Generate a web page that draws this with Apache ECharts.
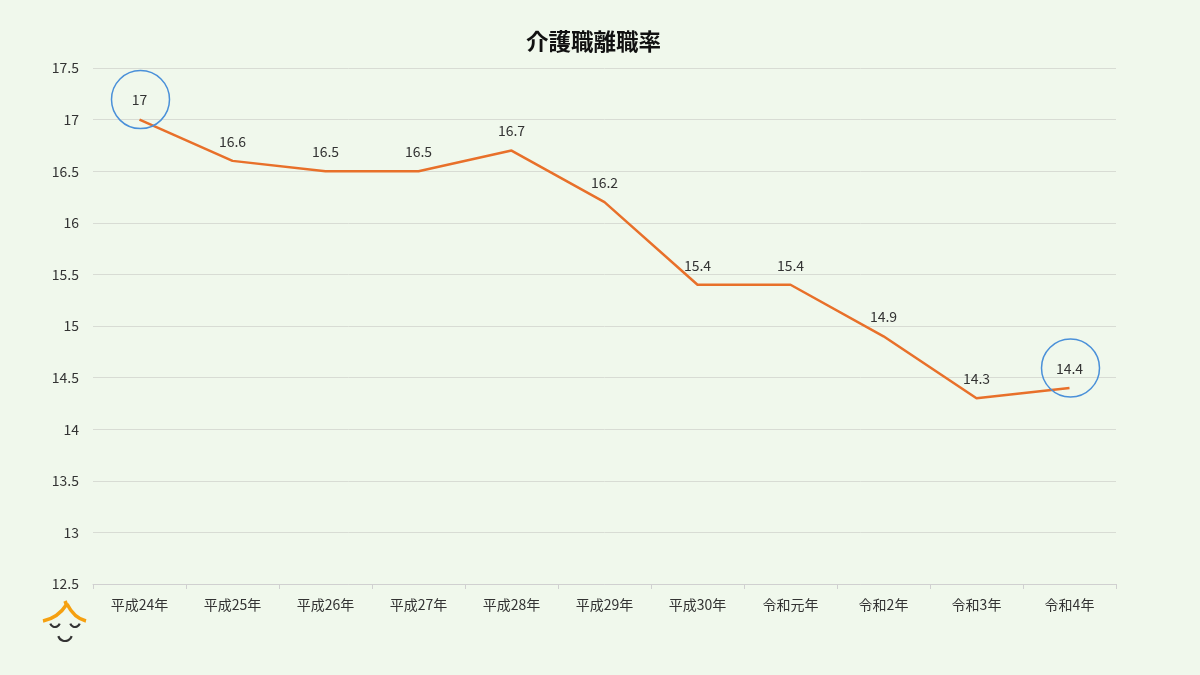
<!DOCTYPE html>
<html><head><meta charset="utf-8">
<script src="https://cdn.jsdelivr.net/npm/echarts@6/dist/echarts.min.js"></script>
<style>html,body{margin:0;padding:0;background:#f0f8ec;}#c{width:1200px;height:675px;}</style>
</head><body><div id="c"></div>
<script>
const titleText = '介護職離職率';
const categories = ['平成24年','平成25年','平成26年','平成27年','平成28年','平成29年','平成30年','令和元年','令和2年','令和3年','令和4年'];
const values = [17, 16.6, 16.5, 16.5, 16.7, 16.2, 15.4, 15.4, 14.9, 14.3, 14.4];
const highlighted = [0, 10];

const chart = echarts.init(document.getElementById('c'));
const font = '"Noto Sans CJK JP", "Noto Sans", sans-serif';
chart.setOption({
  backgroundColor: '#f0f8ec',
  animation: false,
  title: { text: titleText, left: 521, top: 25, textStyle: { fontFamily: font, fontSize: 22.5, fontWeight: 'bold', color: '#111' } },
  grid: { left: 93, right: 84, top: 68, bottom: 91 },
  xAxis: {
    type: 'category', data: categories, boundaryGap: true,
    axisLine: { lineStyle: { color: '#d0d0d0' } },
    axisTick: { show: true, length: 5, lineStyle: { color: '#d0d0d0' } },
    axisLabel: { fontFamily: font, fontSize: 14, color: '#333', margin: 14 }
  },
  yAxis: {
    type: 'value', min: 12.5, max: 17.5, interval: 0.5,
    axisLine: { show: false }, axisTick: { show: false },
    splitLine: { lineStyle: { color: '#d8dcd4' } },
    axisLabel: { fontFamily: font, fontSize: 14, color: '#333', margin: 14, formatter: v => String(v) }
  },
  series: [{
    type: 'line', data: values, symbol: 'circle', symbolSize: 1, showSymbol: true,
    itemStyle: { color: 'rgba(0,0,0,0)', borderWidth: 0 },
    lineStyle: { color: '#e8702a', width: 2.5 },
    label: { show: true, position: 'top', distance: 12, fontFamily: font, fontSize: 14, color: '#333' },
    markPoint: {
      symbol: 'circle', symbolSize: 58, symbolOffset: [1, -20],
      itemStyle: { color: 'rgba(0,0,0,0)', borderColor: '#4a90d9', borderWidth: 1.5 },
      label: { show: false },
      data: highlighted.map(i => ({ coord: [i, values[i]] }))
    }
  }],
  graphic: [
    { type: 'bezierCurve', shape: { x1: 43, y1: 621, cpx1: 58, cpy1: 618, x2: 67, y2: 604 }, style: { stroke: '#f5a010', lineWidth: 3.5, fill: null } },
    { type: 'bezierCurve', shape: { x1: 67, y1: 604, cpx1: 74, cpy1: 618, x2: 86, y2: 621 }, style: { stroke: '#f5a010', lineWidth: 3.5, fill: null } },
    { type: 'line', shape: { x1: 67, y1: 606, x2: 65, y2: 601 }, style: { stroke: '#f5a010', lineWidth: 3.5 } },
    { type: 'arc', shape: { cx: 55, cy: 622, r: 5, startAngle: 0.35, endAngle: Math.PI - 0.35 }, style: { stroke: '#333', lineWidth: 2.2, fill: null } },
    { type: 'arc', shape: { cx: 75, cy: 622, r: 5, startAngle: 0.35, endAngle: Math.PI - 0.35 }, style: { stroke: '#333', lineWidth: 2.2, fill: null } },
    { type: 'arc', shape: { cx: 65, cy: 634, r: 7, startAngle: 0.3, endAngle: Math.PI - 0.3 }, style: { stroke: '#333', lineWidth: 2.2, fill: null } }
  ]
});
</script></body></html>
